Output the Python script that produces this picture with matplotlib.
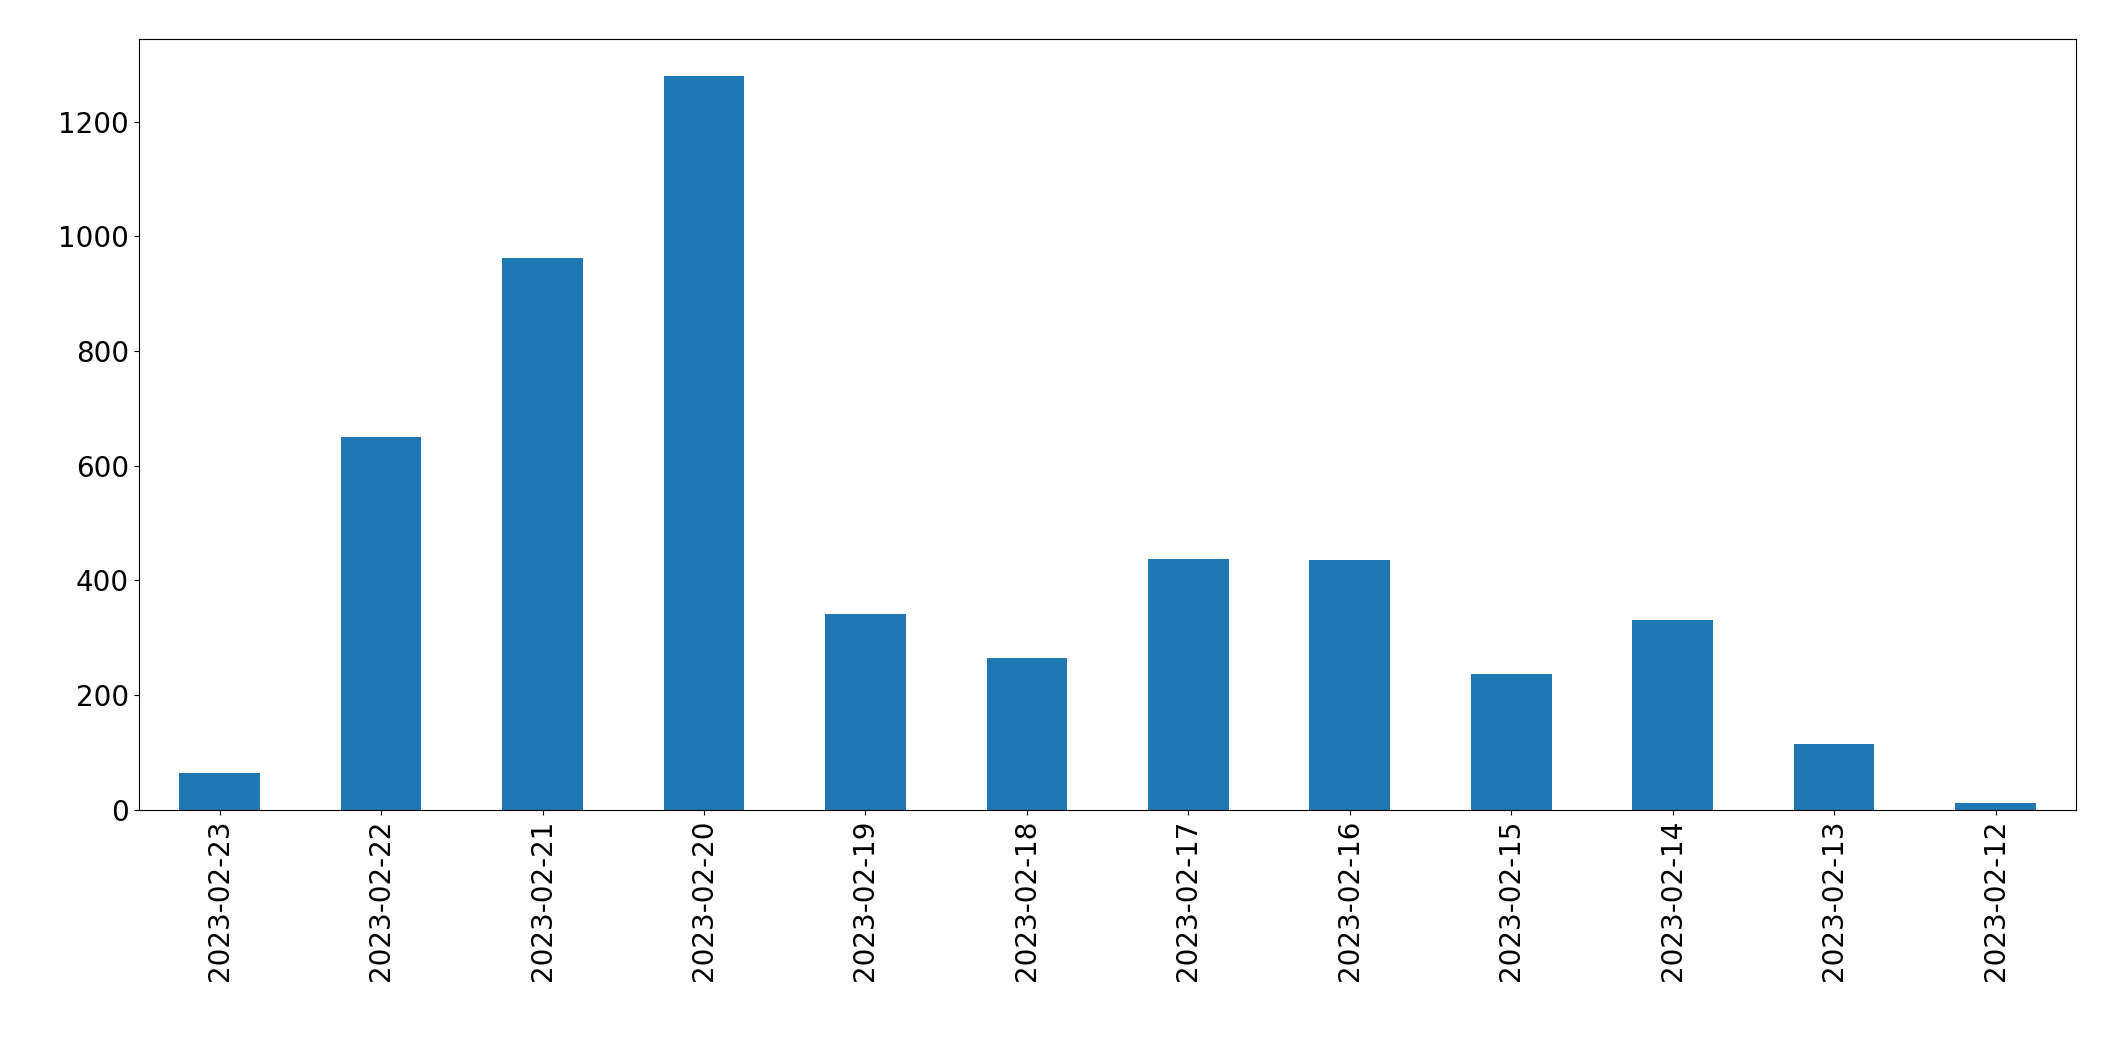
import matplotlib
matplotlib.use("Agg")
import matplotlib.pyplot as plt

dates = ["2023-02-23","2023-02-22","2023-02-21","2023-02-20","2023-02-19","2023-02-18",
         "2023-02-17","2023-02-16","2023-02-15","2023-02-14","2023-02-13","2023-02-12"]
counts = [64, 650, 963, 1280, 342, 264, 437, 435, 236, 330, 115, 12]

fig = plt.figure(figsize=(21.15, 10.61), dpi=100)
ax = fig.add_axes([0.0657, 0.237, 0.916, 0.726])
x = range(len(dates))
ax.bar(x, counts, width=0.5, color="#1f77b4")
ax.set_xlim(-0.5, len(dates) - 0.5)
ax.set_xticks(list(x))
ax.set_xticklabels(dates, rotation=90, fontsize=20)
ax.set_yticks([0, 200, 400, 600, 800, 1000, 1200])
ax.tick_params(axis="y", labelsize=20)
ax.set_ylim(0, 1344)
fig.savefig("out.png", dpi=100)
